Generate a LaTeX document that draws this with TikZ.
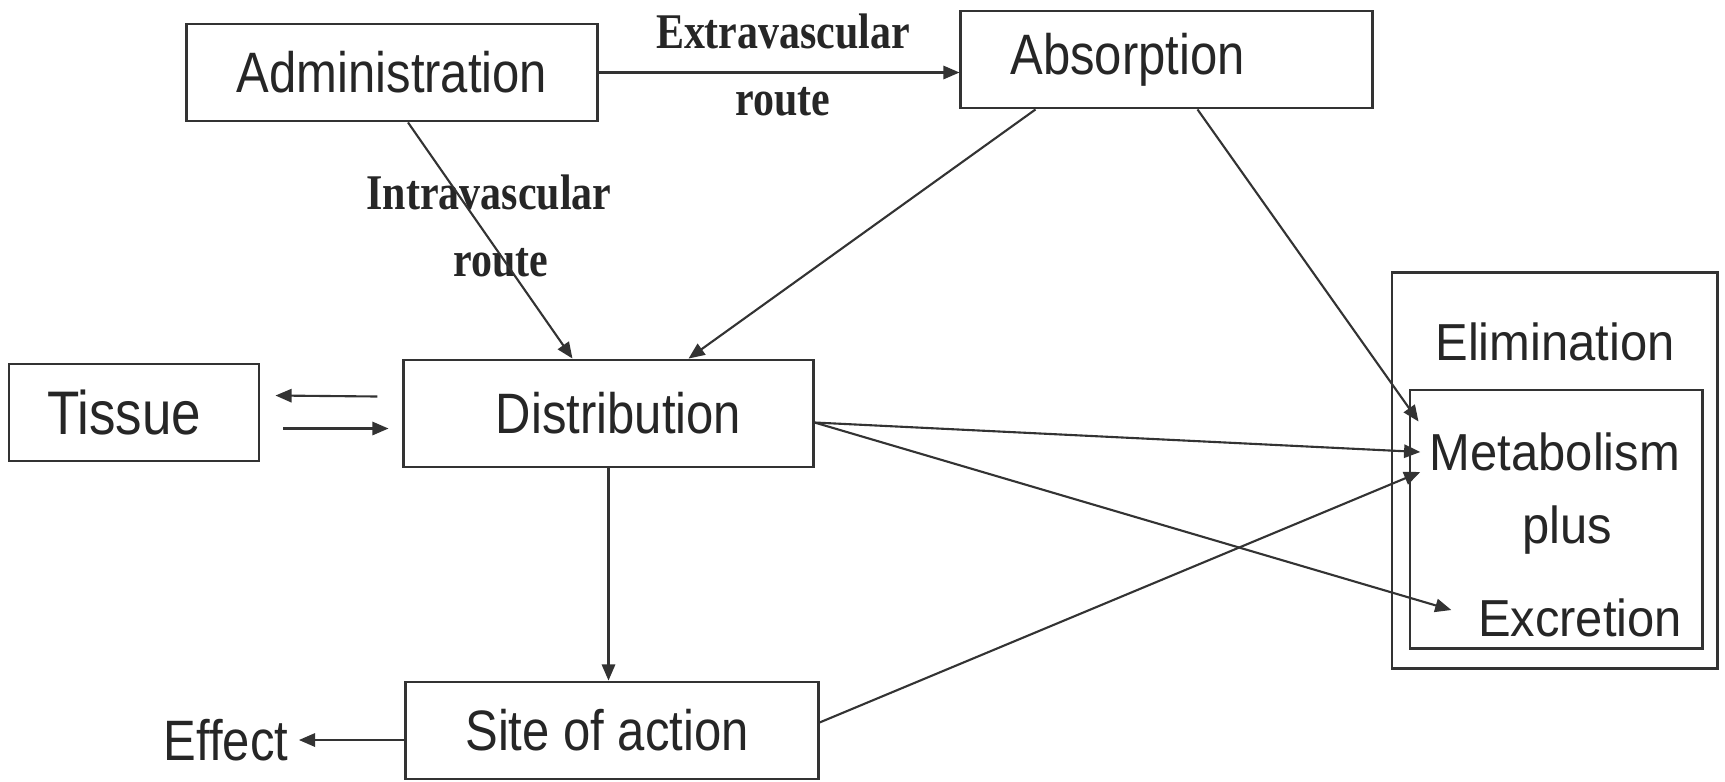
\documentclass[tikz,border=0pt]{standalone}
\usepackage{fontspec}
\usetikzlibrary{arrows.meta,calc}

\newfontfamily\boxfont[FakeStretch=0.86]{Liberation Sans}
\newfontfamily\elimfont[FakeStretch=0.94]{Liberation Sans}
\newfontfamily\routefont[FakeStretch=0.84]{Liberation Serif}

\tikzset{
  box/.style={draw=black!80, line width=0.8pt, fill=white, minimum height=0.97cm,
    font={\boxfont\fontsize{16.2}{19}\selectfont}, text=black!85},
  plain/.style={inner sep=0pt, font={\boxfont\fontsize{16.2}{19}\selectfont}, text=black!85},
  elimtext/.style={inner sep=0pt, font={\elimfont\fontsize{14.8}{17}\selectfont}, text=black!85},
  routetext/.style={align=center, inner sep=0pt, text=black!85,
    font={\routefont\bfseries\fontsize{14.2}{18.8}\selectfont}},
  arr/.style={draw=black!80, line width=0.6pt, -{Triangle[length=4.6pt,width=3.8pt]}}
}

\begin{document}
\begin{tikzpicture}[x=0.01cm, y=-0.01cm]
  \useasboundingbox (0,0) rectangle (1725,781);

  % Main boxes
  \node[box, minimum width=4.10cm] (admin) at (392,72.5) {Administration};
  \node[box, minimum width=4.11cm] (absorb) at (1166.5,59.5) {Absorption\hspace*{0.78cm}};
  \node[box, minimum width=2.50cm] (tissue) at (134,412.5) {\fontsize{17.5}{20}\selectfont Tissue\hspace*{0.2cm}};
  \node[box, minimum width=4.09cm, minimum height=1.07cm] (distrib) at (608.5,413.5) {\hspace*{0.2cm}Distribution};
  \node[box, minimum width=4.12cm] (site) at (612,730.5) {Site of action\hspace*{0.1cm}};
  \node[plain] (effect) at (226,740) {Effect};

  % Elimination, with the inner box
  \node[box, minimum width=3.25cm, minimum height=3.95cm] (elim) at (1554.5,470.5) {};
  \node[box, minimum width=2.92cm, minimum height=2.58cm] (metab) at (1556,519) {};
  \node[elimtext] (elimtxt) at (1555,342) {Elimination};
  \node[elimtext] (metabtxt) at (1555,452) {Metabolism};
  \node[elimtext] (plustxt) at (1567,530) {plus};
  \node[elimtext] (excrtxt) at (1580,618) {Excretion};

  % Route labels
  \node[routetext] (extra) at (783,65) {Extravascular\\route};
  \node[routetext] (intra) at (489,226) {Intravascular\\\hspace*{0.24cm}route};

  % Arrows
  \draw[arr] (admin.east) -- (admin.east -| absorb.west);
  \draw[arr] ($(admin.south)+(16,0)$) -- ($(distrib.north)+(-36,0)$);
  \draw[arr] ($(absorb.south)+(-131,0)$) -- ($(distrib.north)+(80,0)$);
  \draw[arr] ($(absorb.south)+(31,0)$) -- ($(metab.north west)+(10,33)$);
  \draw[arr] ($(distrib.east)+(0,9)$) -- ($(metabtxt.west)+(-9,0)$);
  \draw[arr] ($(distrib.east)+(0,9)$) -- ($(excrtxt.west)+(-26,-8)$);
  \draw[arr] ($(site.east)+(0,-8)$) -- ($(metabtxt.west)+(-9,20)$);
  \draw[arr] (distrib.south) -- (distrib.south |- site.north);

  % Tissue exchange
  \draw[arr] ($(distrib.west)+(-25,-17)$) -- ($(tissue.east)+(15,-17)$);
  \draw[arr] ($(tissue.east)+(23,16)$) -- ($(distrib.west)+(-14,15)$);

  \draw[arr] (site.west |- effect) -- ($(effect.east)+(10,0)$);
\end{tikzpicture}
\end{document}
